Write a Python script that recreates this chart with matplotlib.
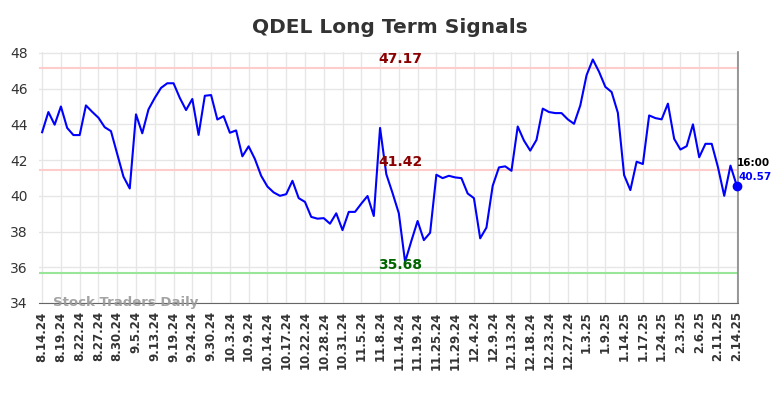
import matplotlib
matplotlib.use("Agg")
import matplotlib.pyplot as plt

title = "QDEL Long Term Signals"
tick_labels = ["8.14.24", "8.19.24", "8.22.24", "8.27.24", "8.30.24", "9.5.24", "9.13.24",
               "9.19.24", "9.24.24", "9.30.24", "10.3.24", "10.9.24", "10.14.24", "10.17.24",
               "10.22.24", "10.28.24", "10.31.24", "11.5.24", "11.8.24", "11.14.24", "11.19.24",
               "11.25.24", "11.29.24", "12.4.24", "12.9.24", "12.13.24", "12.18.24", "12.23.24",
               "12.27.24", "1.3.25", "1.9.25", "1.14.25", "1.17.25", "1.24.25", "2.3.25",
               "2.6.25", "2.11.25", "2.14.25"]
prices = [43.56, 44.69, 43.98, 45.0, 43.8, 43.4, 43.4, 45.06, 44.7, 44.37,
          43.84, 43.62, 42.34, 41.07, 40.41, 44.56, 43.5, 44.84, 45.48, 46.04,
          46.3, 46.3, 45.48, 44.8, 45.42, 43.41, 45.6, 45.64, 44.27, 44.46,
          43.53, 43.66, 42.21, 42.77, 42.06, 41.12, 40.52, 40.19, 40.0, 40.09,
          40.84, 39.87, 39.66, 38.82, 38.72, 38.75, 38.44, 39.02, 38.08, 39.1,
          39.1, 39.56, 39.99, 38.87, 43.8, 41.21, 40.15, 39.02, 36.3, 37.47,
          38.59, 37.52, 37.93, 41.18, 40.99, 41.12, 41.03, 40.99, 40.13, 39.87,
          37.62, 38.22, 40.56, 41.59, 41.65, 41.4, 43.88, 43.09, 42.53, 43.13,
          44.88, 44.69, 44.63, 44.63, 44.28, 44.03, 45.06, 46.75, 47.63, 46.94,
          46.1, 45.81, 44.65, 41.16, 40.32, 41.91, 41.78, 44.5, 44.35, 44.28,
          45.16, 43.19, 42.59, 42.78, 44.0, 42.16, 42.91, 42.91, 41.6, 40.0,
          41.69, 40.57]
tick_step = 3
resistance_high = 47.17
resistance_mid = 41.42
support = 35.68
last_time = "16:00"

fig = plt.figure(figsize=(7.84, 3.98), dpi=100)
ax = fig.add_axes([39 / 784, 1 - 303 / 398, (738 - 39) / 784, (303 - 52) / 398])

x = list(range(len(prices)))
ax.plot(x, prices, color="#0000ff", lw=1.5, zorder=3)
ax.scatter([x[-1]], [prices[-1]], s=36, color="#0000ff", zorder=4, clip_on=False)

ax.axhline(resistance_high, color="#ffcccc", lw=1.5, zorder=2)
ax.axhline(resistance_mid, color="#ffcccc", lw=1.5, zorder=2)
ax.axhline(support, color="#99e699", lw=1.5, zorder=2)

xm = 57.2
ax.text(xm, resistance_high + 0.08, f"{resistance_high:.2f}", color="#8b0000", fontsize=10,
        fontweight="bold", ha="center", va="bottom")
ax.text(xm, resistance_mid + 0.08, f"{resistance_mid:.2f}", color="#8b0000", fontsize=10,
        fontweight="bold", ha="center", va="bottom")
ax.text(xm, support + 0.08, f"{support:.2f}", color="#006400", fontsize=10,
        fontweight="bold", ha="center", va="bottom")

ax.text(x[-1] + 0.0, prices[-1] + 1.25, last_time, color="black", fontsize=7.5,
        fontweight="bold", ha="left", va="center")
ax.text(x[-1] + 0.3, prices[-1] + 0.47, f"{prices[-1]:.2f}", color="#0000ff", fontsize=7.5,
        fontweight="bold", ha="left", va="center")

ax.text(1.8, 34.05, "Stock Traders Daily", color="#999999", fontsize=9.5,
        fontweight="bold", ha="left", va="center", alpha=0.9, zorder=5)

ax.set_xlim(-0.5, 111.2)
ax.set_ylim(34, 48.05)
ax.set_yticks(range(34, 49, 2))
ax.set_xticks(list(range(0, len(prices), tick_step)))
ax.set_xticklabels(tick_labels, rotation=90, fontsize=8.5, fontweight="bold")
ax.tick_params(axis="y", labelsize=10, length=0, pad=8, colors="#333333")
ax.tick_params(axis="x", length=0, pad=6, colors="#333333")
ax.grid(True, color="#e6e6e6", lw=1)
ax.set_axisbelow(True)
for s in ["top", "left"]:
    ax.spines[s].set_visible(False)
ax.spines["bottom"].set_color("#666666")
ax.spines["right"].set_color("#888888")
ax.spines["right"].set_linewidth(1.2)

fig.suptitle(title, x=0.497, y=0.955, fontsize=14.5, fontweight="bold", color="#333333")

fig.savefig("out.png", dpi=100)
